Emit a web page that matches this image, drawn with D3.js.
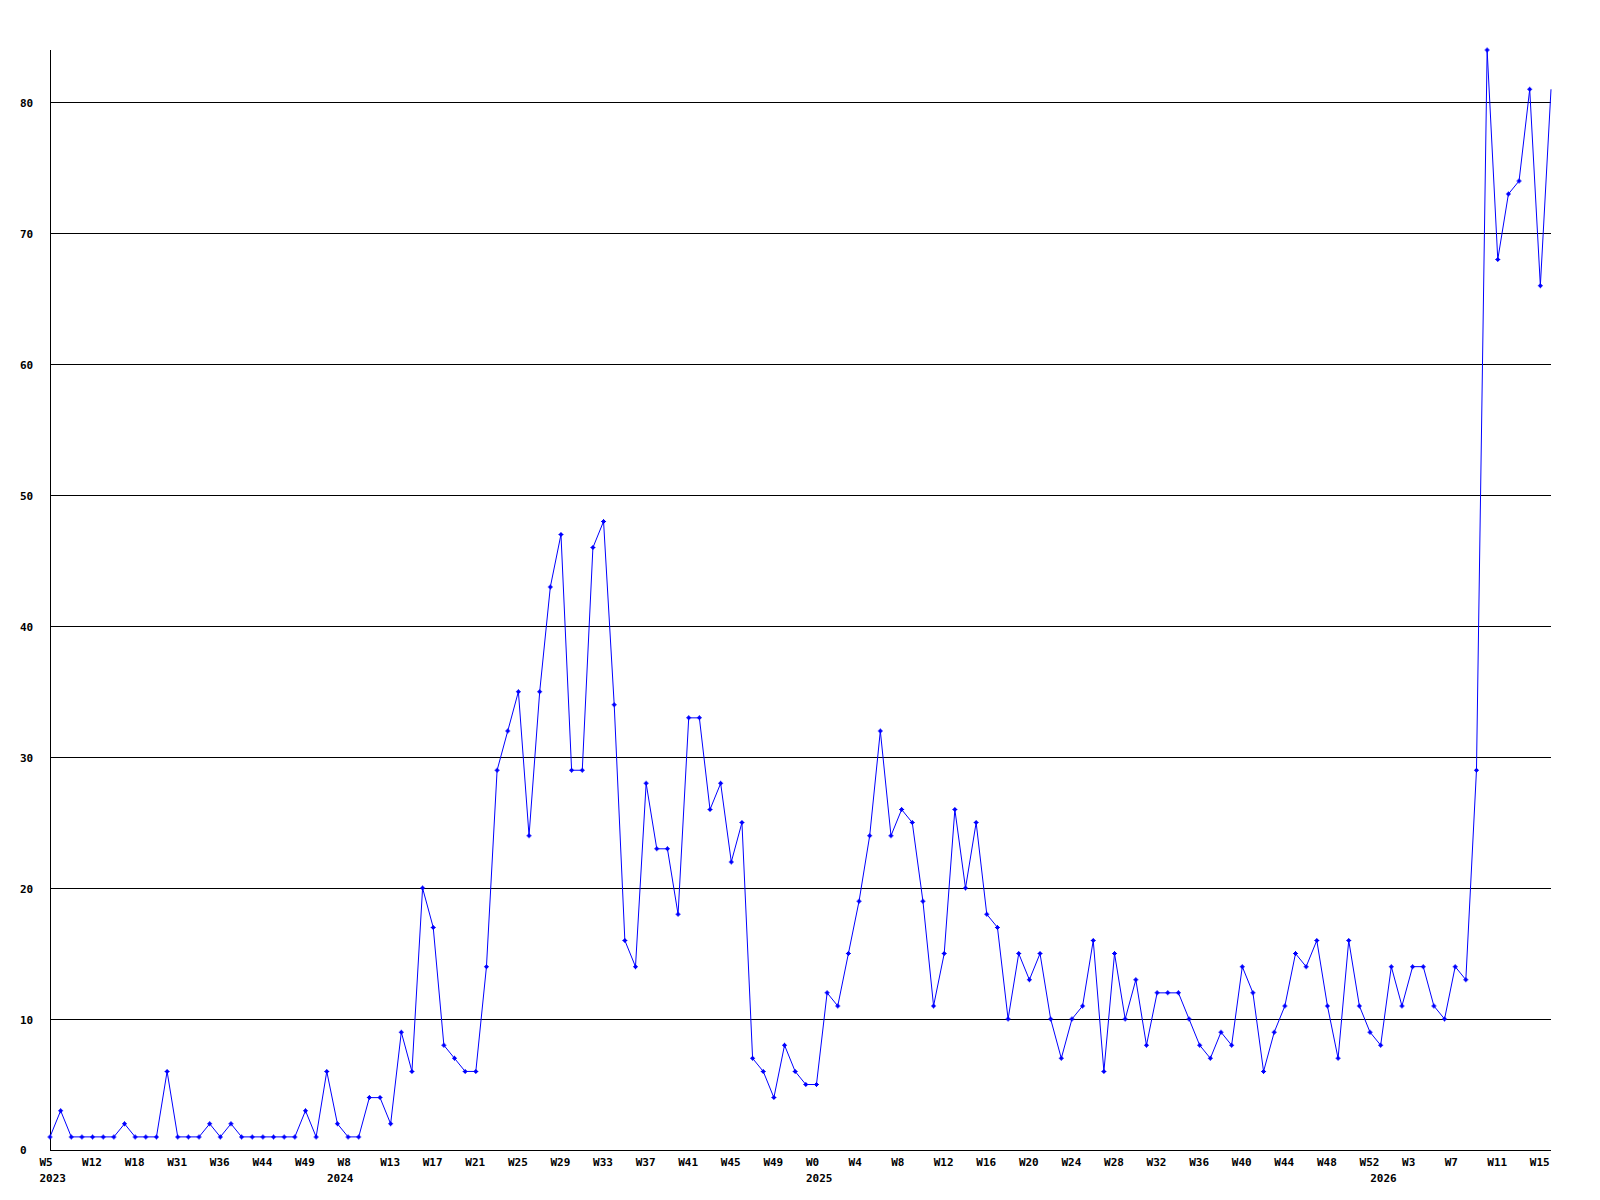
<!DOCTYPE html>
<html>
<head>
<meta charset="utf-8">
<script src="https://cdn.jsdelivr.net/npm/d3@7"></script>
<style>
  body { margin: 0; background: #fff; }
  text { font-family: "DejaVu Sans Mono", monospace; font-size: 11px; font-weight: bold; fill: #000; }
</style>
</head>
<body>
<script>
// week numbers per year, in the order the points are plotted
const weeks2023 = [5, 7, 9, 11, 12, 14, 15, 17, 18, 20, 22, 27, 31, 32, 34, 35, 36, 38, 40, 42, 44, 45, 46, 48, 49, 51, 52];
const weeks2024 = [7, 8, 10, 11, 12, 13, 14, 15, 16, 17, 18, 19, 20, 21, 22, 23, 24, 25, 26, 27, 28, 29, 30, 31, 32,
                   33, 34, 35, 36, 37, 38, 39, 40, 41, 42, 43, 44, 45, 46, 47, 48, 49, 50, 51, 52];
const weeks2025 = [0, 1, 2, 3, 4, 5, 6, 7, 8, 9, 10, 11, 12, 13, 14, 15, 16, 17, 18, 19, 20, 21, 22, 23, 24, 25, 26,
                   27, 28, 29, 30, 31, 32, 33, 34, 35, 36, 37, 38, 39, 40, 41, 42, 43, 44, 45, 46, 47, 48, 49, 50, 51, 52];
const weeks2026 = [0, 1, 2, 3, 4, 5, 6, 7, 8, 9, 10, 11, 12, 13, 14, 15, 16];
const years = [2023, 2024, 2025, 2026];

const counts = [
  1, 3, 1, 1, 1, 1, 1, 2, 1, 1, 1, 6, 1, 1, 1, 2, 1, 2, 1, 1, 1, 1, 1, 1, 3, 1, 6,
  2, 1, 1, 4, 4, 2, 9, 6, 20, 17, 8, 7, 6, 6, 14, 29, 32, 35, 24, 35, 43, 47, 29, 29, 46, 48, 34, 16, 14,
  28, 23, 23, 18, 33, 33, 26, 28, 22, 25, 7, 6, 4, 8, 6, 5,
  5, 12, 11, 15, 19, 24, 32, 24, 26, 25, 19, 11, 15, 26, 20, 25, 18, 17, 10, 15, 13, 15, 10, 7, 10, 11,
  16, 6, 15, 10, 13, 8, 12, 12, 12, 10, 8, 7, 9, 8, 14, 12, 6, 9, 11, 15, 14, 16, 11, 7, 16, 11, 9,
  8, 14, 11, 14, 14, 11, 10, 14, 13, 29, 84, 68, 73, 74, 81, 66, 81
];

const yTicks = [0, 10, 20, 30, 40, 50, 60, 70, 80];

const points = [];
[weeks2023, weeks2024, weeks2025, weeks2026].forEach((wk, yi) => {
  wk.forEach((w, j) => points.push({ year: years[yi], week: w, first: j === 0 }));
});
points.forEach((p, i) => p.value = counts[i]);

const W = 1600, H = 1200;
const plotL = 50, plotR = 1551, plotT = 50, plotB = 1150;

const svg = d3.select("body").append("svg")
    .attr("width", W)
    .attr("height", H);

const x = d3.scaleLinear()
    .domain([0, points.length - 1])
    .range([plotL, plotR]);

const y = d3.scaleLinear()
    .domain([0, 84])
    .range([plotB, plotT]);

// grid lines + y labels
const yAxis = svg.append("g")
    .attr("transform", `translate(${plotL},0)`)
    .call(d3.axisLeft(y).tickValues(yTicks).tickSize(-(plotR - plotL)).tickFormat(d3.format("d")));
yAxis.select(".domain").remove();
yAxis.selectAll(".tick line")
    .attr("stroke", "#000")
    .attr("shape-rendering", "crispEdges");
yAxis.selectAll(".tick text")
    .attr("x", 20 - plotL)
    .attr("dy", "0.36em")
    .attr("text-anchor", "start")
    .attr("font-family", null)
    .attr("font-size", null);

svg.append("line")
    .attr("x1", plotL).attr("x2", plotL)
    .attr("y1", plotT).attr("y2", plotB)
    .attr("stroke", "#000")
    .attr("shape-rendering", "crispEdges");

// x labels: every 4th week, year under the first week of each year
const xLab = svg.append("g");
xLab.selectAll("text.wk")
    .data(points.filter((d, i) => i % 4 === 0))
    .join("text")
    .attr("class", "wk")
    .attr("x", d => x(points.indexOf(d)) - 10.5)
    .attr("y", 1166)
    .text(d => "W" + d.week);

xLab.selectAll("text.yr")
    .data(points.filter(d => d.first))
    .join("text")
    .attr("class", "yr")
    .attr("x", d => x(points.indexOf(d)) - 10.5)
    .attr("y", 1182)
    .text(d => d.year);

const line = d3.line()
    .x((d, i) => x(i))
    .y(d => y(d.value));

svg.append("path")
    .datum(points)
    .attr("fill", "none")
    .attr("stroke", "#0000ff")
    .attr("stroke-width", 1)
    .attr("d", line);

const marker = "M-2.5,-0.5h5v1h-5zM-0.5,-2.5h1v5h-1zM-1.5,-1.5h3v3h-3z";
svg.append("g")
    .selectAll("path")
    .data(points.slice(0, -1))
    .join("path")
    .attr("transform", (d, i) => `translate(${x(i)},${y(d.value)})`)
    .attr("d", marker)
    .attr("fill", "#0000ff");
</script>
</body>
</html>
